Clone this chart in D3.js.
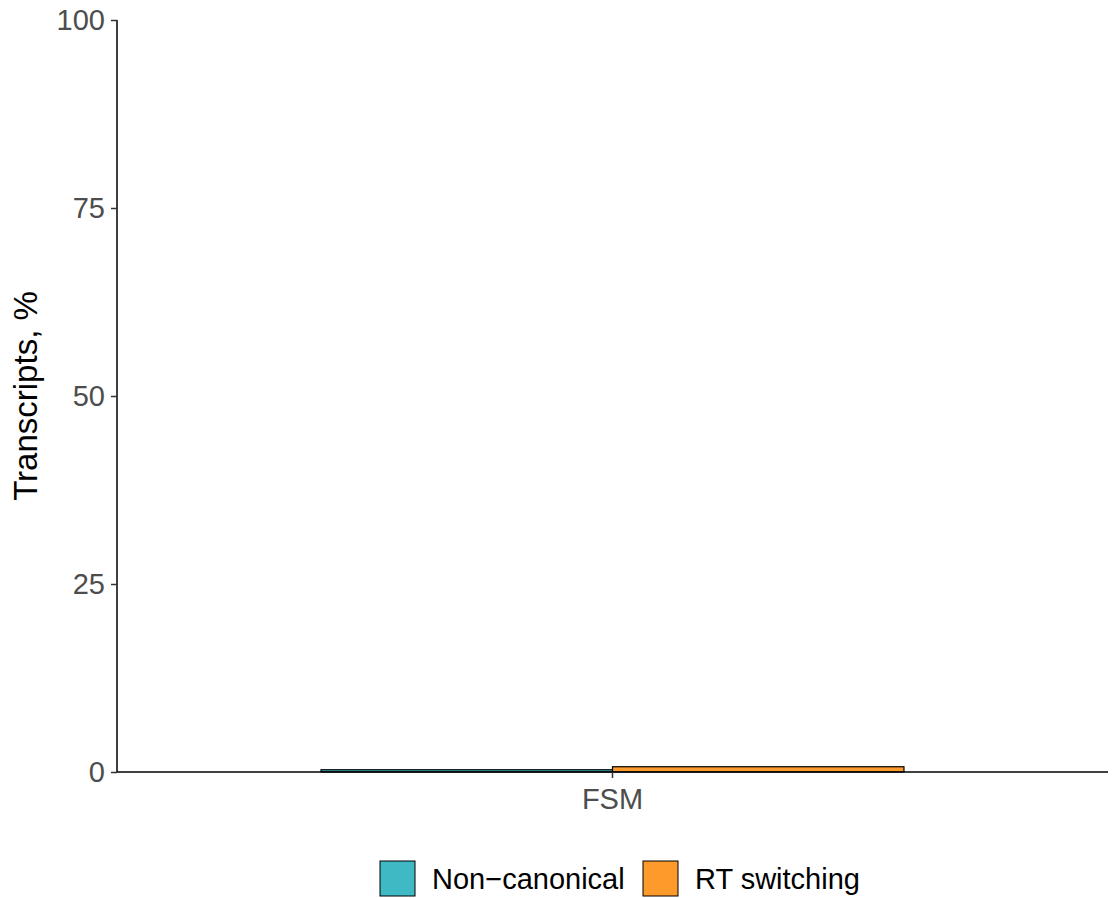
<!DOCTYPE html>
<html><head><meta charset="utf-8">
<script src="https://cdn.jsdelivr.net/npm/d3@7"></script>
<style>body{margin:0;background:#fff}svg{display:block}text{font-family:"Liberation Sans",Arial,sans-serif}</style>
</head><body>
<script>
const categories = ["FSM"];
const groups = ["Non\u2212canonical", "RT switching"];
const values = [[0.3, 0.7]]; // per category, per group
const yTicks = [0, 25, 50, 75, 100];
const colors = ["#3fb9c4", "#fd9a2c"];

const W = 1118, H = 898;
const m = {l:117, r:10, t:20, b:126};
const svg = d3.select("body").append("svg").attr("width", W).attr("height", H);

const x = d3.scaleBand().domain(categories).range([m.l, W - m.r]).paddingInner(0).paddingOuter(0.35);
const xs = d3.scaleBand().domain(groups).range([0, x.bandwidth()]);
const y = d3.scaleLinear().domain([0, 100]).range([H - m.b, m.t]);

const g = svg.append("g");
categories.forEach((c, i) => {
  groups.forEach((gr, j) => {
    g.append("rect")
      .attr("x", x(c) + xs(gr))
      .attr("y", y(values[i][j]))
      .attr("width", xs.bandwidth())
      .attr("height", y(0) - y(values[i][j]))
      .attr("fill", colors[j])
      .attr("stroke", "#000").attr("stroke-width", 1.2);
  });
});

const yAxis = svg.append("g").attr("transform", `translate(${m.l},0)`)
  .call(d3.axisLeft(y).tickValues(yTicks).tickSize(6).tickPadding(6));
const xAxis = svg.append("g").attr("transform", `translate(0,${H - m.b})`)
  .call(d3.axisBottom(x).tickSize(6).tickPadding(10));
[yAxis, xAxis].forEach(a => {
  a.select(".domain").attr("stroke", "#000").attr("stroke-width", 1.5);
  a.selectAll(".tick line").attr("stroke", "#333").attr("stroke-width", 1.5);
  a.selectAll(".tick text").attr("fill", "#4d4d4d").attr("font-size", 29)
    .attr("font-family", "Liberation Sans, Arial, sans-serif");
});
yAxis.select(".domain").attr("d", `M0,${y(100)}V${y(0)}`);
xAxis.select(".domain").attr("d", `M${m.l},0H${W - m.r}`);

svg.append("text")
  .attr("transform", `translate(37,${(y(0) + y(100)) / 2}) rotate(-90)`)
  .attr("text-anchor", "middle").attr("font-size", 33).attr("fill", "#000")
  .text("Transcripts, %");

// legend
const lg = svg.append("g").attr("transform", "translate(380,861)");
const keyX = [0, 263];
groups.forEach((gr, j) => {
  lg.append("rect").attr("x", keyX[j]).attr("y", 0).attr("width", 35).attr("height", 35)
    .attr("fill", colors[j]).attr("stroke", "#000").attr("stroke-width", 1);
  lg.append("text").attr("x", keyX[j] + 52).attr("y", 17.5).attr("dy", "0.35em")
    .attr("font-size", 29).attr("fill", "#000").text(gr);
});
</script>
</body></html>
